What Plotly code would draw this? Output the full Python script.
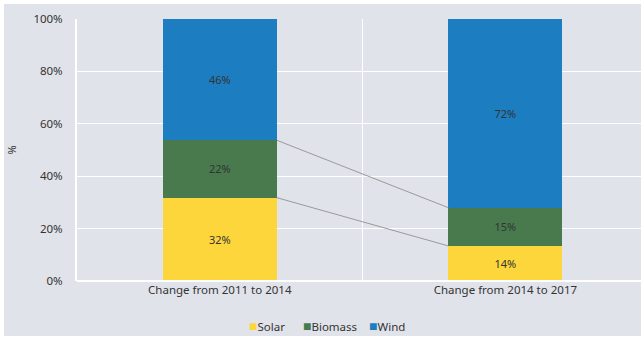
import plotly.graph_objects as go

categories = ["Change from 2011 to 2014", "Change from 2014 to 2017"]
solar = [31.8, 13.4]
biomass = [21.9, 14.6]
wind = [46.3, 72.0]
labels_solar = ["32%", "14%"]
labels_biomass = ["22%", "15%"]
labels_wind = ["46%", "72%"]
y_ticks = [0, 20, 40, 60, 80, 100]
y_ticklabels = ["0%", "20%", "40%", "60%", "80%", "100%"]

xpos = list(range(len(categories)))
BAR_W = 0.4
FONT = "Noto Sans"
TXT = "#333333"

fig = go.Figure()
series = [
    ("Solar", solar, labels_solar, "#FDD63C"),
    ("Biomass", biomass, labels_biomass, "#487A4E"),
    ("Wind", wind, labels_wind, "#1C7EC1"),
]
for name, vals, labs, col in series:
    fig.add_trace(go.Bar(
        x=xpos, y=vals, name=name, width=BAR_W,
        marker=dict(color=col, line=dict(width=0)),
        text=labs, textposition="inside", insidetextanchor="middle",
        textfont=dict(color=TXT, size=11, family=FONT),
        hoverinfo="skip", showlegend=False,
    ))

# connector lines between stack boundaries
cum1 = [solar[0], solar[0] + biomass[0]]
cum2 = [solar[1], solar[1] + biomass[1]]
for a, b in zip(cum1, cum2):
    fig.add_trace(go.Scatter(
        x=[xpos[0] + BAR_W / 2, xpos[1] - BAR_W / 2], y=[a, b],
        mode="lines", line=dict(color="#9a9a9a", width=1),
        showlegend=False, hoverinfo="skip",
    ))

# compact legend built from annotations
legend_x = [0.302, 0.398, 0.515]
annotations = []
for (name, _, _, col), lx in zip(series, legend_x):
    annotations.append(dict(
        text=f"<span style='color:{col};font-size:14px'>■</span>{name}",
        xref="paper", yref="paper", x=lx, y=-0.168,
        xanchor="left", yanchor="middle", showarrow=False,
        font=dict(size=11.5, color=TXT, family=FONT)))

fig.update_layout(
    barmode="stack",
    width=637, height=332,
    margin=dict(l=73, r=0, t=15, b=55),
    paper_bgcolor="#E1E3EA",
    plot_bgcolor="#E1E3EA",
    font=dict(family=FONT, size=11, color=TXT),
    showlegend=False,
    annotations=annotations,
    xaxis=dict(range=[-0.5, 1.475], tickvals=xpos, ticktext=categories,
               showgrid=False, zeroline=False, ticks="",
               showline=False,
               minor=dict(tickvals=[0.5], showgrid=True, gridcolor="white", gridwidth=1),
               tickfont=dict(size=11.5, color=TXT)),
    yaxis=dict(range=[0, 100], tickvals=y_ticks, ticktext=y_ticklabels,
               showgrid=True, gridcolor="white", gridwidth=1,
               zeroline=False, showline=True, linecolor="white", linewidth=2,
               ticks="", ticklabelstandoff=10,
               title=dict(text="%", standoff=17, font=dict(size=11, color=TXT)),
               tickfont=dict(size=11.5, color=TXT)),
    shapes=[dict(type="line", xref="paper", yref="paper", x0=0, x1=1, y0=0, y1=0,
                 line=dict(color="white", width=2), layer="above")],
)

fig.write_html("out.html", post_script="document.body.style.margin='4px 0 0 4px';document.body.style.background='white';document.body.style.overflow='hidden';")
